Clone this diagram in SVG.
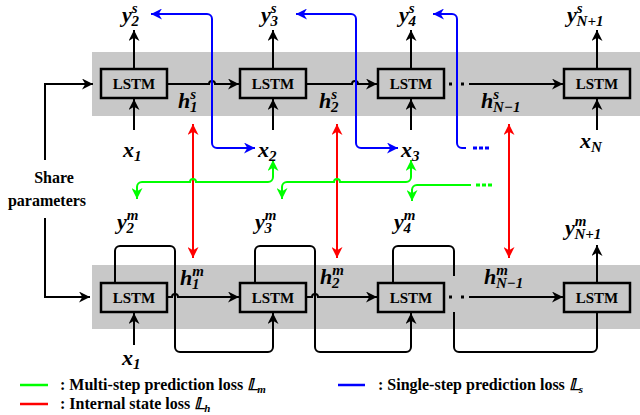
<svg xmlns="http://www.w3.org/2000/svg" width="640" height="415" viewBox="0 0 640 415">
<style>
.band{fill:#c8c8c8}
.box{fill:#c8c8c8;stroke:#000;stroke-width:2.5}
.k{fill:none;stroke:#000;stroke-width:2}
.b{fill:none;stroke:#00f;stroke-width:2}
.g{fill:none;stroke:#0f0;stroke-width:2}
.r{fill:none;stroke:#f00;stroke-width:2}
</style>
<defs>
<marker id="ak" viewBox="0 0 10 10" refX="10" refY="5" markerWidth="5.5" markerHeight="5.5" orient="auto"><path d="M0,0L10,5L0,10L3,5z" fill="#000"/></marker>
<marker id="ab" viewBox="0 0 10 10" refX="10" refY="5" markerWidth="5.5" markerHeight="5.5" orient="auto"><path d="M0,0L10,5L0,10L3,5z" fill="#00f"/></marker>
<marker id="ag" viewBox="0 0 10 10" refX="10" refY="5" markerWidth="5.5" markerHeight="5.5" orient="auto"><path d="M0,0L10,5L0,10L3,5z" fill="#0f0"/></marker>
<marker id="ar" viewBox="0 0 10 10" refX="10" refY="5" markerWidth="5.5" markerHeight="5.5" orient="auto-start-reverse"><path d="M0,0L10,5L0,10L3,5z" fill="#f00"/></marker>
</defs>
<rect class="band" x="92" y="52" width="548" height="64"/>
<rect class="band" x="92" y="265" width="548" height="64"/>

<g id="connectors">
<path class="k" d="M134,69V30" marker-end="url(#ak)"/>
<path class="k" d="M273,69V30" marker-end="url(#ak)"/>
<path class="k" d="M411,69V30" marker-end="url(#ak)"/>
<path class="k" d="M597,69V30" marker-end="url(#ak)"/>
<path class="k" d="M134,130V99" marker-end="url(#ak)"/>
<path class="k" d="M273,130V99" marker-end="url(#ak)"/>
<path class="k" d="M411,130V99" marker-end="url(#ak)"/>
<path class="k" d="M597,130V99" marker-end="url(#ak)"/>
<path class="k" d="M167,84H209a3,3 0 0 1 6,0H239" marker-end="url(#ak)"/>
<path class="k" d="M306,84H352a3,3 0 0 1 6,0H377" marker-end="url(#ak)"/>
<path class="k" d="M469,84H563" marker-end="url(#ak)"/>
<path d="M449,84h3M461,84h3" stroke="#000" stroke-width="3"/>
<path class="k" d="M134,345V313" marker-end="url(#ak)"/>
<path class="k" d="M597,283V245" marker-end="url(#ak)"/>
<path class="k" d="M167,297H172a3,3 0 0 1 6,0H239" marker-end="url(#ak)"/>
<path class="k" d="M306,297H312a3,3 0 0 1 6,0H377" marker-end="url(#ak)"/>
<path class="k" d="M469,297H563" marker-end="url(#ak)"/>
<path d="M449,297h3M461,297h3" stroke="#000" stroke-width="3"/>
<path class="k" d="M115,283V251a5,5 0 0 1 5,-5H170a5,5 0 0 1 5,5V347a5,5 0 0 0 5,5H268a5,5 0 0 0 5,-5V313" marker-end="url(#ak)"/>
<path class="k" d="M255,283V251a5,5 0 0 1 5,-5H310a5,5 0 0 1 5,5V347a5,5 0 0 0 5,5H406a5,5 0 0 0 5,-5V313" marker-end="url(#ak)"/>
<path class="k" d="M393,283V251a5,5 0 0 1 5,-5H449a5,5 0 0 1 5,5V276M454,312V347a5,5 0 0 0 5,5H592a5,5 0 0 0 5,-5V312"/>
<path class="k" d="M45,160V84H93" marker-end="url(#ak)"/>
<path class="k" d="M45,218V297H90" marker-end="url(#ak)"/>
<path class="b" d="M212,19a5,5 0 0 0 -5,-5H151" marker-end="url(#ab)"/>
<path class="b" d="M212,19V143a5,5 0 0 0 5,5H255" marker-end="url(#ab)"/>
<path class="b" d="M356,19a5,5 0 0 0 -5,-5H296" marker-end="url(#ab)"/>
<path class="b" d="M356,19V143a5,5 0 0 0 5,5H398" marker-end="url(#ab)"/>
<path class="b" d="M457,19a5,5 0 0 0 -5,-5H433" marker-end="url(#ab)"/>
<path class="b" d="M457,19V143a5,5 0 0 0 5,5H466"/>
<path d="M473,148h4M479,148h4M485,148h4" stroke="#00f" stroke-width="3"/>
<path class="r" d="M193,124V258" marker-start="url(#ar)" marker-end="url(#ar)"/>
<path class="r" d="M337,124V258" marker-start="url(#ar)" marker-end="url(#ar)"/>
<path class="r" d="M509,124V258" marker-start="url(#ar)" marker-end="url(#ar)"/>
<path class="g" d="M137,187a5,5 0 0 1 5,-5H190a3,3 0 0 1 6,0H268a5,5 0 0 0 5,-5V160" marker-end="url(#ag)"/>
<path class="g" d="M137,187V199" marker-end="url(#ag)"/>
<path class="g" d="M282,187V199" marker-end="url(#ag)"/>
<path class="g" d="M282,187a5,5 0 0 1 5,-5H334a3,3 0 0 1 6,0H406a5,5 0 0 0 5,-5V160" marker-end="url(#ag)"/>
<path class="g" d="M412,190a5,5 0 0 1 5,-5H471"/>
<path class="g" d="M412,189V201" marker-end="url(#ag)"/>
<path d="M476,185h4M482,185h4M488,185h4" stroke="#0f0" stroke-width="3"/>
</g>

<g font-family="Liberation Serif, DejaVu Serif, serif" font-weight="bold" font-size="15" text-anchor="middle">
<g id="lstm-s1"><rect class="box" x="101" y="69" width="66" height="29"/><text x="134" y="89">LSTM</text></g>
<g id="lstm-s2"><rect class="box" x="240" y="69" width="66" height="29"/><text x="273" y="89">LSTM</text></g>
<g id="lstm-s3"><rect class="box" x="378" y="69" width="66" height="29"/><text x="411" y="89">LSTM</text></g>
<g id="lstm-s4"><rect class="box" x="564" y="69" width="66" height="29"/><text x="597" y="89">LSTM</text></g>
<g id="lstm-m1"><rect class="box" x="101" y="283" width="66" height="29"/><text x="134" y="303">LSTM</text></g>
<g id="lstm-m2"><rect class="box" x="240" y="283" width="66" height="29"/><text x="273" y="303">LSTM</text></g>
<g id="lstm-m3"><rect class="box" x="378" y="283" width="66" height="29"/><text x="411" y="303">LSTM</text></g>
<g id="lstm-m4"><rect class="box" x="564" y="283" width="66" height="29"/><text x="597" y="303">LSTM</text></g>
</g>

<g id="labels" font-family="Liberation Serif, DejaVu Serif, serif" font-weight="bold" font-style="italic" font-size="22">
<text x="122" y="22">y<tspan font-size="15" dy="-9">s</tspan><tspan font-size="15" dx="-6" dy="13">2</tspan></text>
<text x="261" y="22">y<tspan font-size="15" dy="-9">s</tspan><tspan font-size="15" dx="-6" dy="13">3</tspan></text>
<text x="399" y="22">y<tspan font-size="15" dy="-9">s</tspan><tspan font-size="15" dx="-6" dy="13">4</tspan></text>
<text x="567" y="22">y<tspan font-size="15" dy="-9">s</tspan><tspan font-size="15" dx="-6" dy="13">N+1</tspan></text>
<text x="123" y="157">x<tspan font-size="15" dy="4">1</tspan></text>
<text x="258" y="157">x<tspan font-size="15" dy="4">2</tspan></text>
<text x="401" y="157">x<tspan font-size="15" dy="4">3</tspan></text>
<text x="580" y="148">x<tspan font-size="15" dy="4">N</tspan></text>
<text x="178" y="108">h<tspan font-size="15" dy="-9">s</tspan><tspan font-size="15" dx="-6" dy="13">1</tspan></text>
<text x="319" y="108">h<tspan font-size="15" dy="-9">s</tspan><tspan font-size="15" dx="-6" dy="13">2</tspan></text>
<text x="481" y="108">h<tspan font-size="15" dy="-9">s</tspan><tspan font-size="15" dx="-6" dy="13">N−1</tspan></text>
<text x="117" y="229">y<tspan font-size="15" dy="-9">m</tspan><tspan font-size="15" dx="-12" dy="13">2</tspan></text>
<text x="255" y="229">y<tspan font-size="15" dy="-9">m</tspan><tspan font-size="15" dx="-12" dy="13">3</tspan></text>
<text x="394" y="229">y<tspan font-size="15" dy="-9">m</tspan><tspan font-size="15" dx="-12" dy="13">4</tspan></text>
<text x="565" y="235">y<tspan font-size="15" dy="-9">m</tspan><tspan font-size="15" dx="-12" dy="13">N+1</tspan></text>
<text x="180" y="285">h<tspan font-size="15" dy="-9">m</tspan><tspan font-size="15" dx="-12" dy="13">1</tspan></text>
<text x="320" y="284">h<tspan font-size="15" dy="-9">m</tspan><tspan font-size="15" dx="-12" dy="13">2</tspan></text>
<text x="484" y="284">h<tspan font-size="15" dy="-9">m</tspan><tspan font-size="15" dx="-12" dy="13">N−1</tspan></text>
<text x="122" y="365">x<tspan font-size="15" dy="4">1</tspan></text>
</g>

<g id="share" font-family="Liberation Serif, DejaVu Serif, serif" font-weight="bold" font-size="16" text-anchor="middle"><text x="54" y="183">Share</text><text x="47" y="206">parameters</text></g>

<g id="legend" font-family="Liberation Serif, DejaVu Serif, serif" font-weight="bold" font-size="16">
<path d="M20,385H48" stroke="#0f0" stroke-width="2.5"/>
<text x="60" y="390">: Multi-step prediction loss <tspan font-style="italic">𝕃<tspan font-size="11" dy="3">m</tspan></tspan></text>
<path d="M20,404H48" stroke="#f00" stroke-width="2.5"/>
<text x="60" y="409">: Internal state loss <tspan font-style="italic">𝕃<tspan font-size="11" dy="3">h</tspan></tspan></text>
<path d="M338,385H365" stroke="#00f" stroke-width="2.5"/>
<text x="378" y="390">: Single-step prediction loss <tspan font-style="italic">𝕃<tspan font-size="11" dy="3">s</tspan></tspan></text>
</g>
</svg>
